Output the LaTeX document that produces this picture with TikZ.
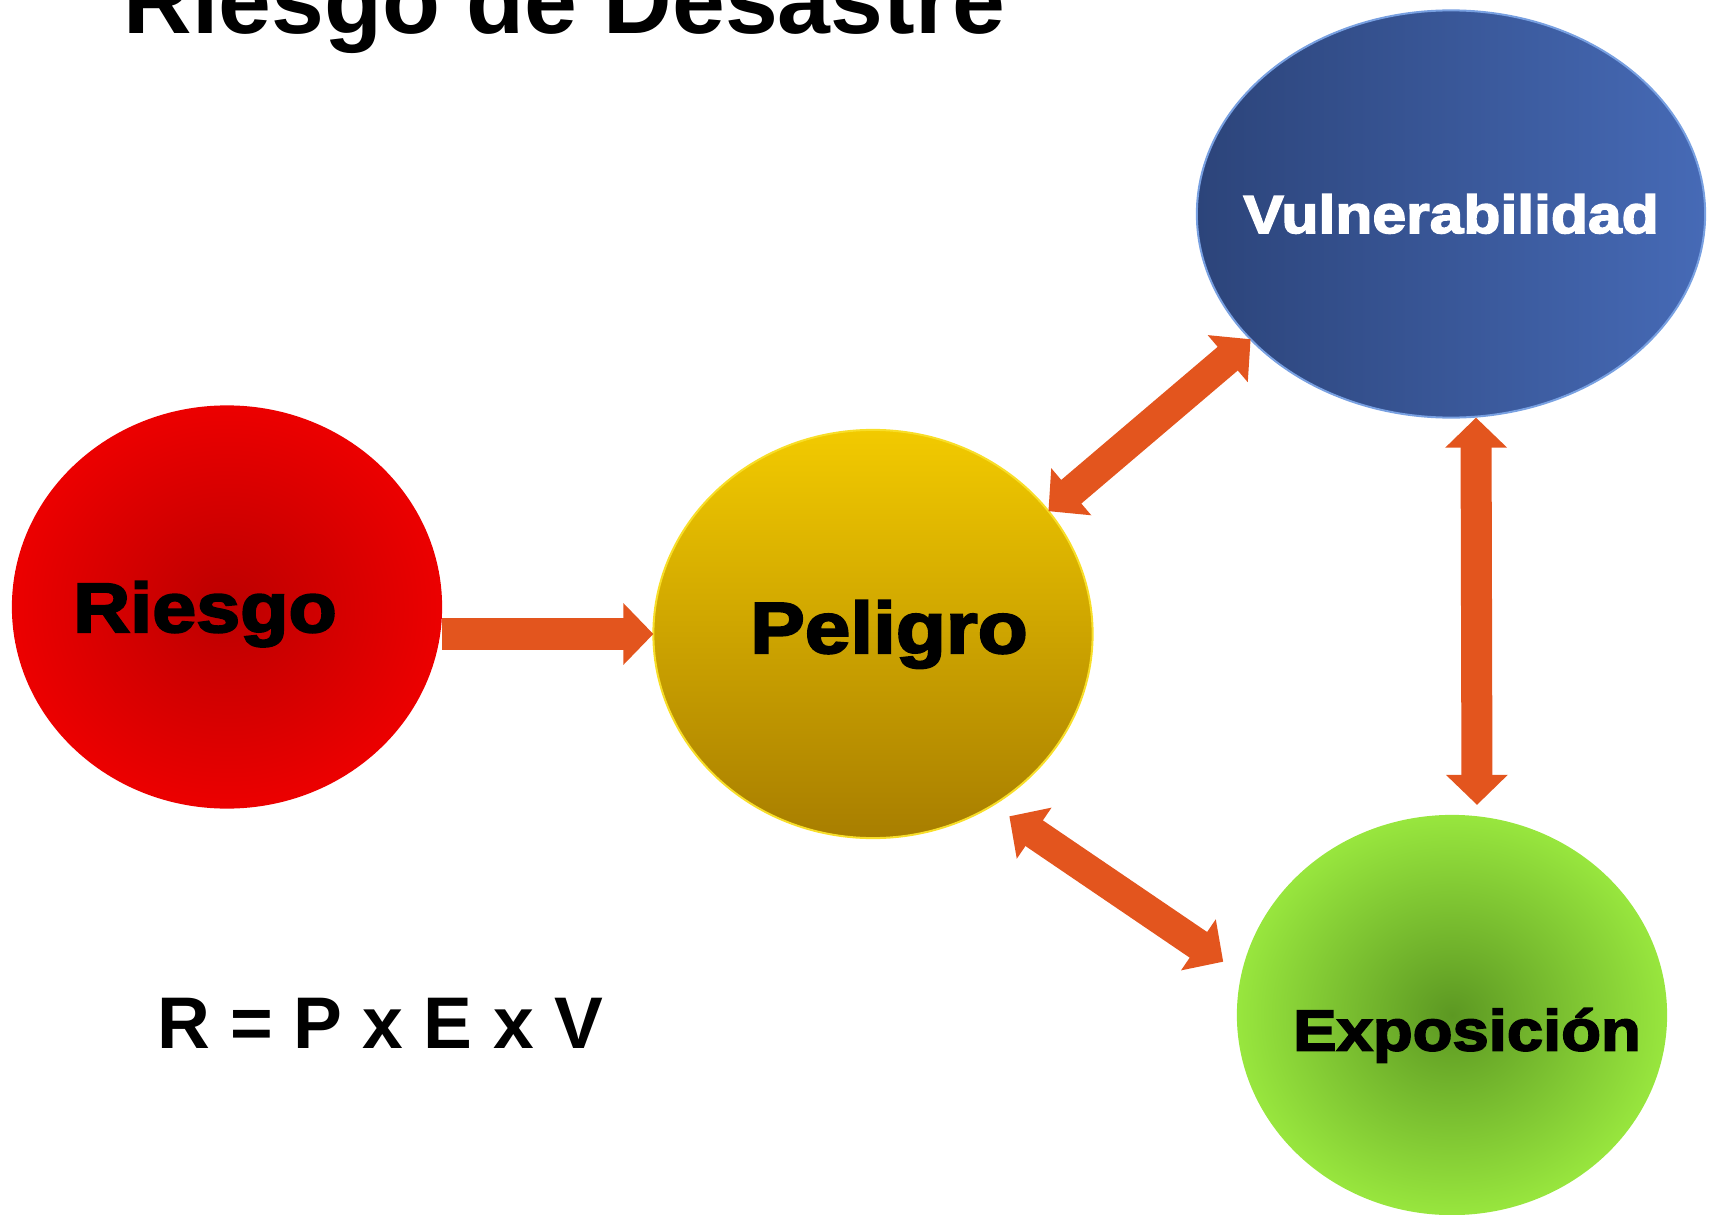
\documentclass[tikz,border=0pt]{standalone}
\usepackage{fontspec}
\setmainfont{Liberation Sans}
\newfontfamily\heavyfont{Liberation Sans}[FakeStretch=1.13,BoldFeatures={FakeBold=3}]
\usetikzlibrary{calc,arrows.meta,positioning,shapes.geometric}
\definecolor{arrowc}{RGB}{227,85,30}
\definecolor{redin}{RGB}{188,0,0}
\definecolor{redout}{RGB}{236,0,0}
\definecolor{goldtop}{RGB}{242,202,0}
\definecolor{goldbot}{RGB}{168,126,0}
\definecolor{goldrim}{RGB}{248,222,40}
\definecolor{navyl}{RGB}{44,68,122}
\definecolor{navyr}{RGB}{70,106,182}
\definecolor{navyrim}{RGB}{120,160,225}
\definecolor{limein}{RGB}{92,152,34}
\definecolor{limeout}{RGB}{152,230,62}
\tikzset{
  blob/.style={ellipse,inner sep=0pt,outer sep=0pt},
  lbl/.style={font=\heavyfont\bfseries\fontsize{#1}{#1}\selectfont},
  fatone/.style={draw=arrowc,line width=0.31cm,-{Triangle[length=0.3cm,width=0.6cm]}},
  fattwo/.style={draw=arrowc,line width=0.31cm,{Triangle[length=0.3cm,width=0.6cm]}-{Triangle[length=0.3cm,width=0.6cm]}}
}
\begin{document}
\begin{tikzpicture}[x=0.01cm,y=-0.01cm]
\useasboundingbox (0,0) rectangle (1717,1215);
% 标题与公式
\node[anchor=base west,inner sep=0pt,font=\bfseries\fontsize{27}{30}\selectfont] (titulo) at (123,34) {Riesgo de Desastre};
\node[anchor=base west,inner sep=0pt,font=\bfseries\fontsize{20.8}{24}\selectfont] (formula) at (157,1048) {R = P x E x V};
% 四个椭圆
\node[blob,minimum width=4.30cm,minimum height=4.03cm,inner color=redin,outer color=redout,
      lbl=19.9,text height=0.50cm,text depth=0pt] (Riesgo) at (227,607) {\makebox[0pt]{Riesgo\hspace{0.44cm}}};
\node[blob,minimum width=4.39cm,minimum height=4.08cm,top color=goldtop,bottom color=goldbot,draw=goldrim,line width=0.02cm,
      lbl=20.6,text height=0.52cm,text depth=0.14cm] (Peligro) at (873,634) {\makebox[0pt]{\hspace{0.32cm}Peligro}};
\node[blob,minimum width=5.08cm,minimum height=4.07cm,left color=navyl,right color=navyr,draw=navyrim,line width=0.02cm,
      lbl=15.25,text=white,text height=0.38cm,text depth=0pt] (Vulnerabilidad) at (1451,214) {\makebox[0pt]{Vulnerabilidad}};
\node[blob,minimum width=4.30cm,minimum height=4.00cm,inner color=limein,outer color=limeout,
      lbl=16.4,text height=0.71cm,text depth=0pt] (Exposicion) at (1452,1015) {\makebox[0pt]{\hspace{0.30cm}Exposición}};
% 箭头
\draw[fatone] (Riesgo.east |- Peligro.west) -- (Peligro.west);
\draw[fattwo] (Peligro.35) -- (Vulnerabilidad.212);
\draw[fattwo] ([xshift=0.25cm]Vulnerabilidad.south) -- ([xshift=0.25cm,yshift=0.1cm]Exposicion.north);
\draw[fattwo,shorten <=0.2cm,shorten >=0.22cm] (Peligro.-55) -- (Exposicion.169);
\end{tikzpicture}
\end{document}
